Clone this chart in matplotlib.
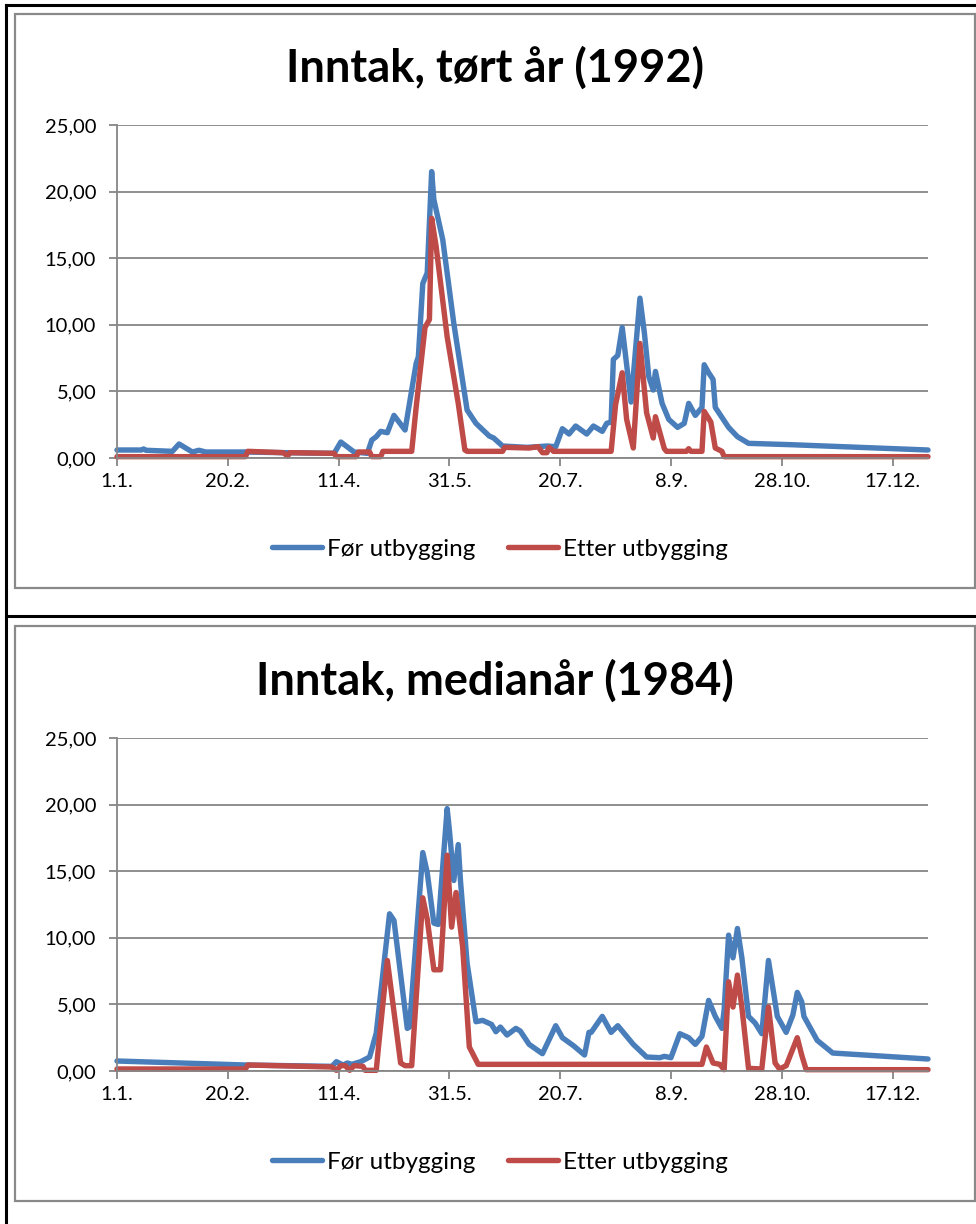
import matplotlib
matplotlib.use("Agg")
import matplotlib.pyplot as plt
from matplotlib.lines import Line2D
from matplotlib.patches import Rectangle

# ---------------- data ----------------
tick_days = [0, 50, 100, 150, 200, 250, 300, 350]
tick_labels = ["1.1.", "20.2.", "11.4.", "31.5.", "20.7.", "8.9.", "28.10.", "17.12."]
y_ticks = [0, 5, 10, 15, 20, 25]
y_labels = ["0,00", "5,00", "10,00", "15,00", "20,00", "25,00"]
series_names = ["Før utbygging", "Etter utbygging"]
titles = ["Inntak, tørt år (1992)", "Inntak, medianår (1984)"]

dry_before_day = [0, 11, 12, 13, 25, 28, 34, 37, 40, 58, 75, 98, 101, 107, 113, 115, 117, 119,
                  122, 125, 130, 135, 136, 138, 140, 142, 143, 147, 152, 158, 162, 168, 170, 174,
                  185, 190, 194, 198, 201, 204, 207, 212, 215, 219, 221, 223, 224, 226, 228, 232,
                  236, 238, 240, 242, 243, 246, 249, 253, 256, 258, 261, 264, 265, 267, 269, 270,
                  276, 280, 285, 304, 366]
dry_before_val = [0.6, 0.6, 0.68, 0.58, 0.5, 1.05, 0.45, 0.58, 0.45, 0.45, 0.4, 0.35, 1.2, 0.45,
                  0.35, 1.35, 1.6, 2.0, 1.9, 3.2, 2.1, 7.1, 7.6, 13.1, 13.9, 21.5, 19.4, 16.4,
                  10.1, 3.6, 2.6, 1.65, 1.5, 0.9, 0.8, 0.85, 0.9, 0.85, 2.2, 1.8, 2.4, 1.8, 2.4,
                  2.0, 2.6, 2.7, 7.4, 7.7, 9.8, 4.2, 12.0, 9.4, 6.1, 5.1, 6.5, 4.1, 2.9, 2.3, 2.6,
                  4.1, 3.2, 3.8, 7.0, 6.4, 5.9, 3.8, 2.3, 1.6, 1.1, 1.0, 0.6]

dry_after_day = [0, 58, 59, 75, 77, 78, 98, 99, 108, 109, 114, 115, 119, 120, 133, 135, 139, 141,
                 142, 144, 149, 154, 157, 158, 174, 175, 186, 190, 192, 194, 195, 197, 223, 225,
                 228, 230, 233, 236, 239, 242, 243, 247, 248, 257, 258, 259, 264, 265, 268, 270,
                 273, 274, 366]
dry_after_val = [0.1, 0.1, 0.5, 0.4, 0.15, 0.4, 0.35, 0.1, 0.1, 0.45, 0.45, 0.1, 0.1, 0.5, 0.5,
                 3.8, 9.8, 10.4, 18.0, 15.9, 9.1, 4.1, 0.6, 0.5, 0.5, 0.8, 0.75, 0.85, 0.4, 0.4,
                 0.8, 0.5, 0.5, 4.0, 6.4, 2.9, 0.75, 8.6, 3.4, 1.5, 3.1, 0.7, 0.5, 0.5, 0.7, 0.5,
                 0.5, 3.5, 2.7, 0.75, 0.5, 0.1, 0.1]

median_before_day = [0, 58, 97, 99, 102, 104, 106, 110, 114, 117, 123, 125, 131, 132, 138, 140,
                     143, 145, 149, 150, 152, 154, 155, 158, 162, 165, 169, 171, 173, 176, 180,
                     182, 186, 192, 194, 198, 201, 206, 211, 213, 214, 219, 223, 226, 233, 239,
                     245, 247, 250, 254, 258, 261, 264, 267, 270, 273, 274, 276, 278, 280, 282,
                     285, 288, 291, 294, 298, 302, 305, 307, 309, 310, 316, 323, 366]
median_before_val = [0.75, 0.45, 0.35, 0.7, 0.45, 0.6, 0.5, 0.7, 1.05, 2.85, 11.8, 11.3, 3.2,
                     3.3, 16.4, 14.9, 11.1, 11.0, 19.7, 18.1, 14.3, 17.0, 14.3, 8.1, 3.7, 3.8,
                     3.5, 2.95, 3.3, 2.7, 3.2, 3.0, 2.0, 1.3, 2.0, 3.4, 2.5, 1.9, 1.2, 2.9, 2.9,
                     4.1, 2.9, 3.4, 2.0, 1.05, 1.0, 1.1, 1.0, 2.8, 2.5, 2.0, 2.6, 5.3, 4.1, 3.2,
                     4.6, 10.2, 8.5, 10.7, 8.5, 4.1, 3.6, 2.8, 8.3, 4.1, 2.9, 4.2, 5.9, 5.2, 4.1,
                     2.3, 1.35, 0.9]

median_after_day = [0, 58, 59, 97, 99, 101, 103, 105, 107, 111, 112, 117, 118, 122, 128, 130,
                    133, 138, 140, 143, 146, 149, 151, 153, 156, 159, 163, 264, 266, 269, 272,
                    274, 276, 278, 280, 282, 285, 291, 294, 297, 299, 302, 307, 309, 311, 366]
median_after_val = [0.15, 0.15, 0.45, 0.3, 0.05, 0.4, 0.4, 0.05, 0.4, 0.35, 0.05, 0.05, 1.8,
                    8.3, 0.6, 0.4, 0.4, 13.0, 11.4, 7.6, 7.6, 16.2, 10.8, 13.4, 9.3, 1.8, 0.5,
                    0.5, 1.8, 0.6, 0.5, 0.1, 6.7, 4.8, 7.2, 4.8, 0.2, 0.15, 4.8, 0.6, 0.15, 0.4,
                    2.5, 1.2, 0.1, 0.1]

BLUE = "#4A7EBB"
RED = "#BE4B48"
GRID = "#868686"

W, H = 976, 1224
plt.rcParams["font.family"] = ["Lato", "DejaVu Sans"]
fig = plt.figure(figsize=(W / 100, H / 100), dpi=100)


def fx(x):
    return x / W


def fy(y):
    return 1 - y / H


def chart(top_px, bottom_px, box_top, box_bottom, title, title_y, legend_y,
          b_day, b_val, a_day, a_val):
    # chart-area box
    fig.patches.append(Rectangle((fx(15), fy(box_bottom)), fx(975) - fx(15),
                                 fy(box_top) - fy(box_bottom), transform=fig.transFigure,
                                 fill=False, edgecolor="#898989", linewidth=1.6, zorder=0))
    ax = fig.add_axes([fx(117), fy(bottom_px), fx(928) - fx(117), fy(top_px) - fy(bottom_px)])
    ax.set_xlim(0, 366)
    ax.set_ylim(0, 25)
    ax.set_yticks(y_ticks)
    ax.set_yticklabels(y_labels)
    ax.set_xticks(tick_days)
    ax.set_xticklabels(tick_labels)
    ax.grid(axis="y", color=GRID, linewidth=1.3)
    ax.set_axisbelow(True)
    for s in ["top", "right"]:
        ax.spines[s].set_visible(False)
    for s in ["left", "bottom"]:
        ax.spines[s].set_color(GRID)
        ax.spines[s].set_linewidth(1.3)
    ax.tick_params(axis="both", colors=GRID, labelcolor="black", labelsize=14.5,
                   length=6, width=1.3, direction="out")
    ax.tick_params(axis="x", pad=5)
    ax.tick_params(axis="y", pad=9)
    l1, = ax.plot(b_day, b_val, color=BLUE, linewidth=3.9, solid_joinstyle="round",
                  solid_capstyle="round", clip_on=False)
    l2, = ax.plot(a_day, a_val, color=RED, linewidth=3.9, solid_joinstyle="round",
                  solid_capstyle="round", clip_on=False)
    fig.text(fx(495), fy(title_y), title, ha="center", va="center", fontsize=32.5,
             fontweight="bold")
    fig.legend([l1, l2], series_names, loc="center", bbox_to_anchor=(fx(500), fy(legend_y)),
               bbox_transform=fig.transFigure, ncol=2, frameon=False, fontsize=17.5,
               handlelength=2.05, handletextpad=0.2, columnspacing=1.35)
    return ax


chart(125, 458, 14, 588, titles[0], 68, 549, dry_before_day, dry_before_val,
      dry_after_day, dry_after_val)
chart(738, 1071, 626, 1201, titles[1], 681, 1162, median_before_day, median_before_val,
      median_after_day, median_after_val)

# outer black frame lines
for (x0, y0, x1, y1) in [(6, 5, 976, 5), (6, 5, 6, 1224), (6, 616, 976, 616)]:
    fig.lines.append(Line2D([fx(x0), fx(x1)], [fy(y0), fy(y1)], transform=fig.transFigure,
                            color="black", linewidth=2.2))

fig.savefig("out.png", dpi=100)
